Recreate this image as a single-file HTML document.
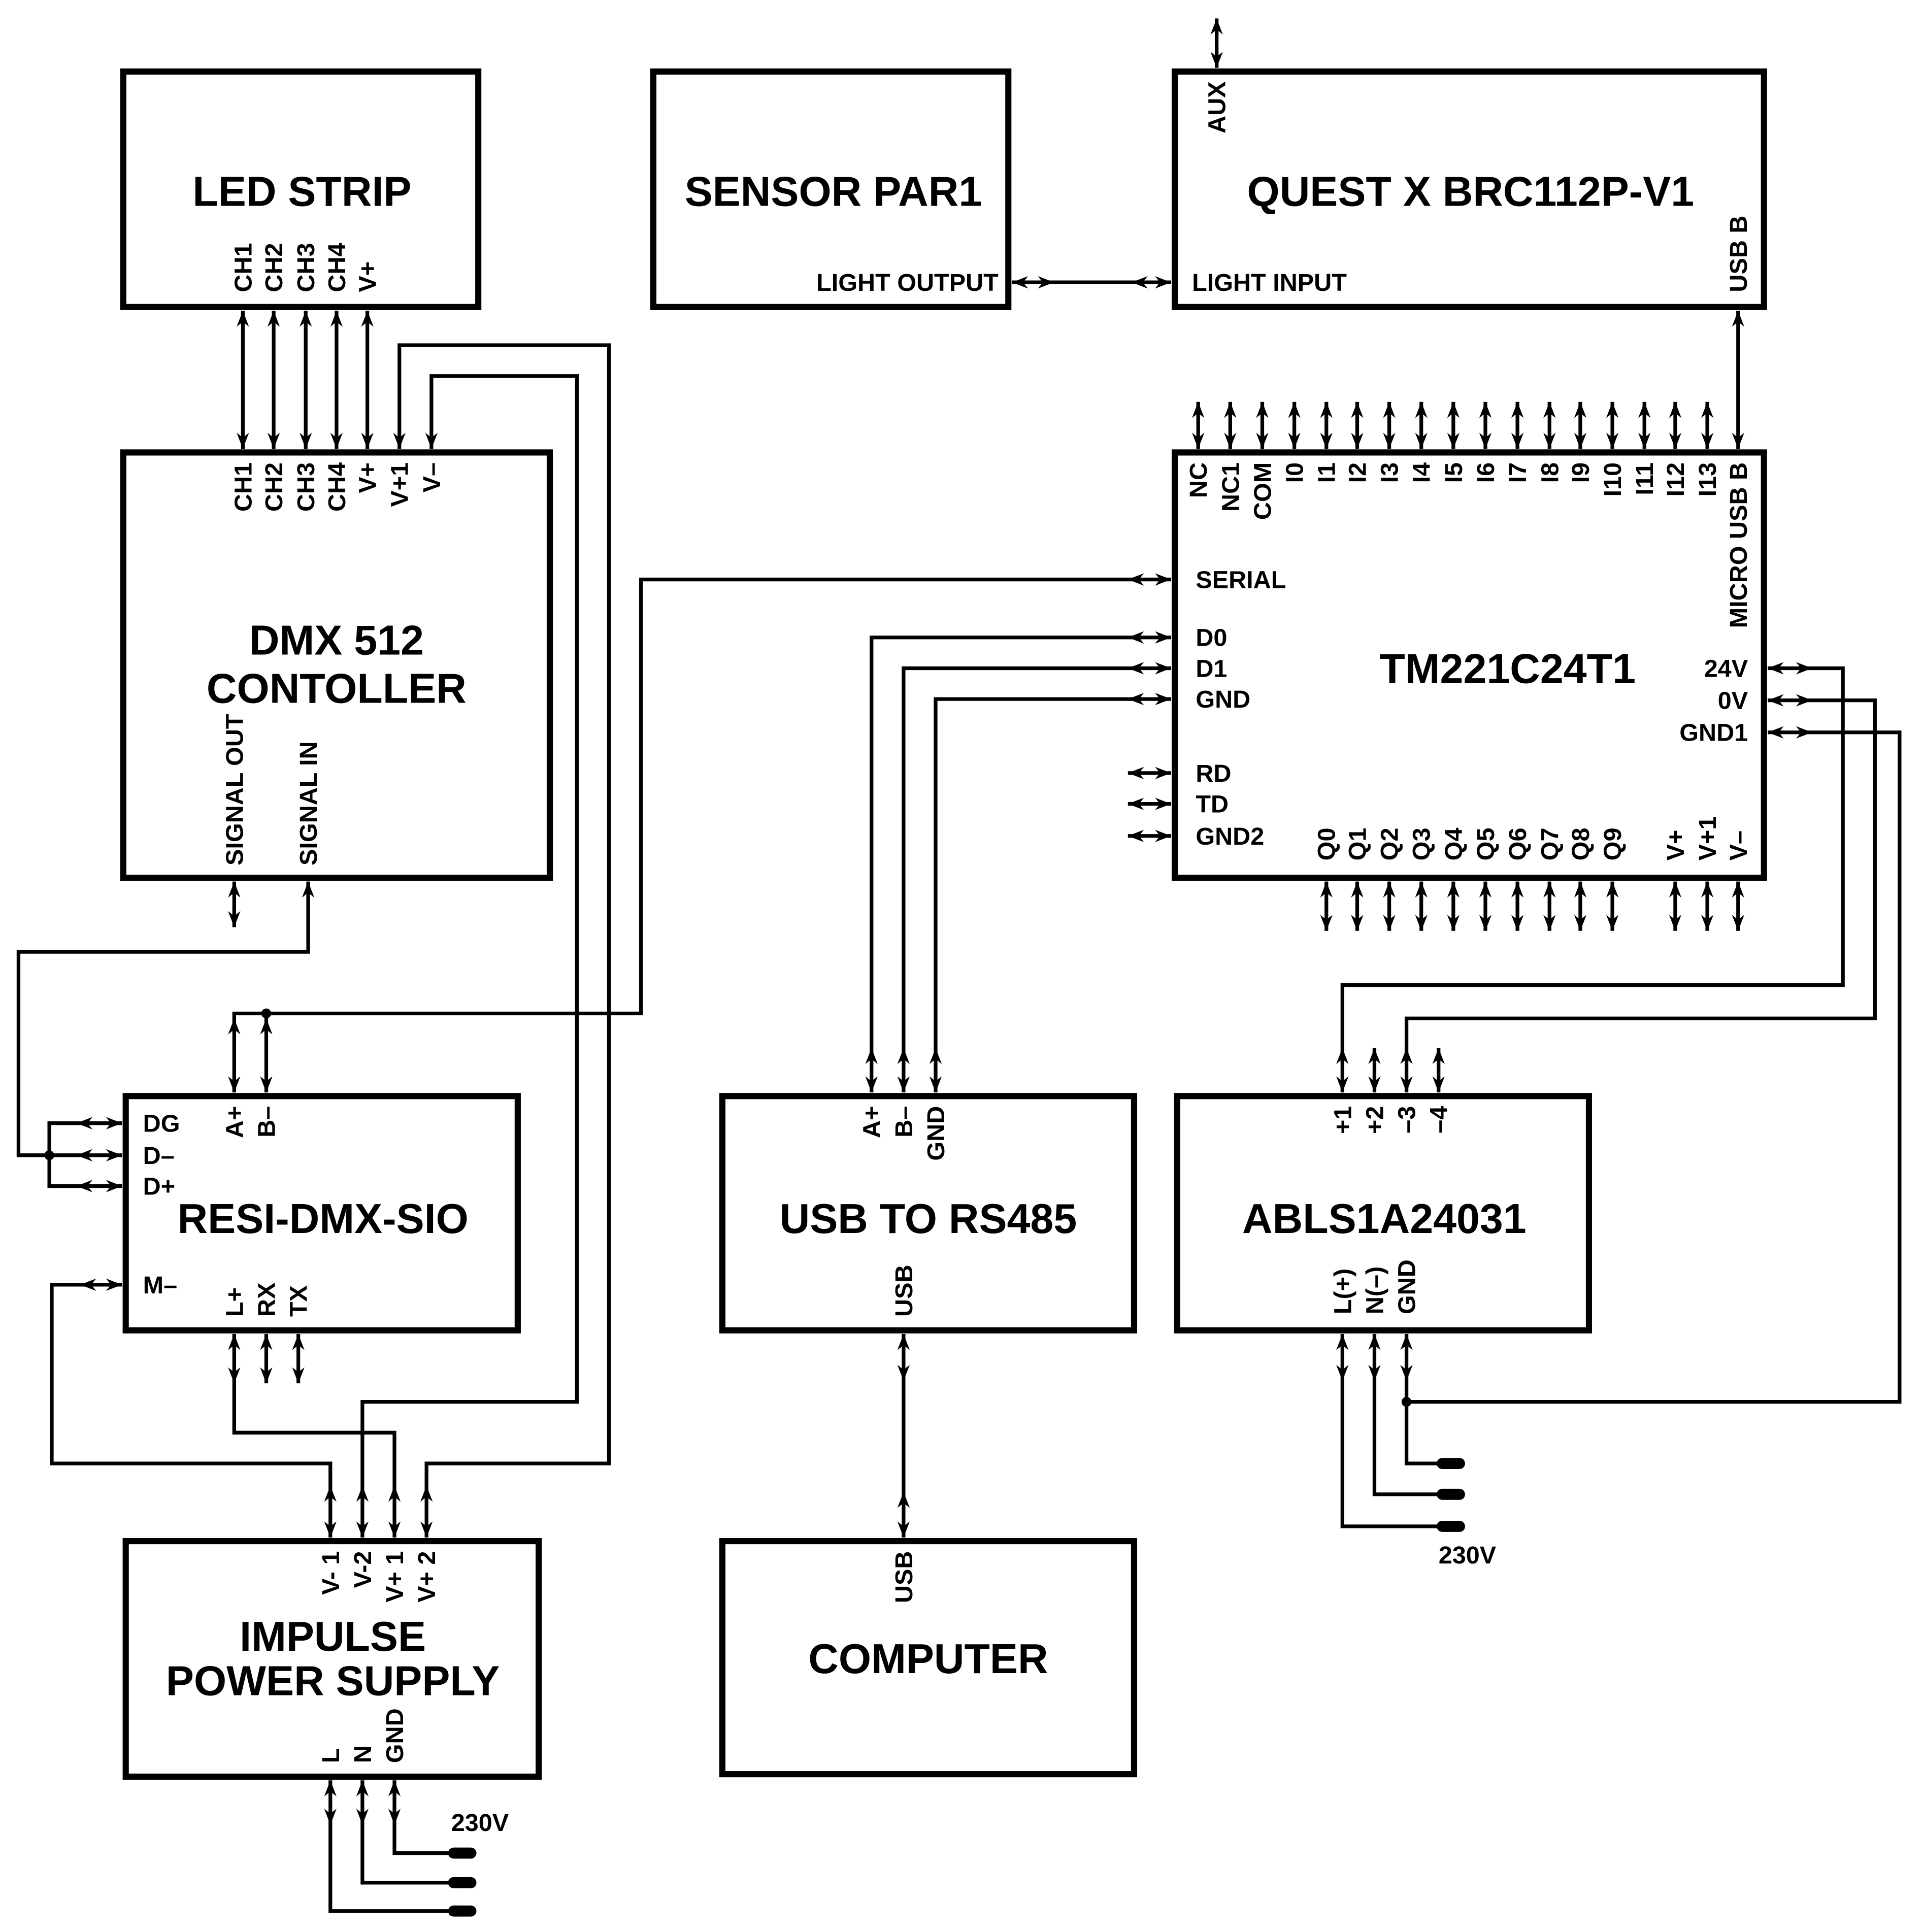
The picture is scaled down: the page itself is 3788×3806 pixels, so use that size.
<!DOCTYPE html>
<html><head><meta charset="utf-8"><style>
html,body{margin:0;padding:0;background:#fff}
svg{display:block}
text{font-family:"Liberation Sans",Arial,sans-serif;font-weight:bold;fill:#000}
.t{font-size:34px;text-anchor:middle}
.p{font-size:20px}
.b{fill:none;stroke:#000;stroke-width:5}
.w{fill:none;stroke:#000;stroke-width:3}
.pl{stroke:#000;stroke-width:9;stroke-linecap:round}
</style></head><body>
<svg width="3788" height="3806" viewBox="0 0 1560 1567" preserveAspectRatio="none" xmlns="http://www.w3.org/2000/svg" xmlns:xlink="http://www.w3.org/1999/xlink">
<defs>
<path id="au" d="M0,0 L-5,13 L0,9 L5,13Z" fill="#000"/>
<path id="ad" d="M0,0 L-5,-13 L0,-9 L5,-13Z" fill="#000"/>
<path id="al" d="M0,0 L13,-5 L9,0 L13,5Z" fill="#000"/>
<path id="ar" d="M0,0 L-13,-5 L-9,0 L-13,5Z" fill="#000"/>
</defs>
<rect class="b" x="100" y="58" width="288" height="191"/>
<rect class="b" x="530" y="58" width="288" height="191"/>
<rect class="b" x="953" y="58" width="478" height="191"/>
<rect class="b" x="100" y="367" width="346" height="345"/>
<rect class="b" x="953" y="367" width="478" height="345"/>
<rect class="b" x="102" y="889" width="318" height="190"/>
<rect class="b" x="586" y="889" width="334" height="190"/>
<rect class="b" x="955" y="889" width="334" height="190"/>
<rect class="b" x="102" y="1250" width="335" height="191"/>
<rect class="b" x="586" y="1250" width="334" height="189"/>

<text class="t" x="245" y="167">LED STRIP</text>
<text class="t" x="676" y="167">SENSOR PAR1</text>
<text class="t" x="1193" y="167">QUEST X BRC112P-V1</text>
<text class="t" x="273" y="531">DMX 512</text>
<text class="t" x="273" y="570">CONTOLLER</text>
<text class="t" x="1223" y="554">TM221C24T1</text>
<text class="t" x="262" y="1000">RESI-DMX-SIO</text>
<text class="t" x="753" y="1000">USB TO RS485</text>
<text class="t" x="1123" y="1000">ABLS1A24031</text>
<text class="t" x="270" y="1339">IMPULSE</text>
<text class="t" x="270" y="1375">POWER SUPPLY</text>
<text class="t" x="753" y="1357">COMPUTER</text>

<g class="p">
<text transform="translate(204,237) rotate(-90)">CH1</text>
<text transform="translate(229,237) rotate(-90)">CH2</text>
<text transform="translate(255,237) rotate(-90)">CH3</text>
<text transform="translate(280,237) rotate(-90)">CH4</text>
<text transform="translate(305,237) rotate(-90)">V+</text>
<text transform="translate(204,375) rotate(-90)" text-anchor="end">CH1</text>
<text transform="translate(229,375) rotate(-90)" text-anchor="end">CH2</text>
<text transform="translate(255,375) rotate(-90)" text-anchor="end">CH3</text>
<text transform="translate(280,375) rotate(-90)" text-anchor="end">CH4</text>
<text transform="translate(305,375) rotate(-90)" text-anchor="end">V+</text>
<text transform="translate(331,375) rotate(-90)" text-anchor="end">V+1</text>
<text transform="translate(357,375) rotate(-90)" text-anchor="end">V–</text>
<text transform="translate(197,702) rotate(-90)">SIGNAL OUT</text>
<text transform="translate(257,702) rotate(-90)">SIGNAL IN</text>
<text x="810" y="236" text-anchor="end">LIGHT OUTPUT</text>
<text x="967" y="236">LIGHT INPUT</text>
<text transform="translate(994,66) rotate(-90)" text-anchor="end">AUX</text>
<text transform="translate(1417,237) rotate(-90)">USB B</text>
<text transform="translate(979,375) rotate(-90)" text-anchor="end">NC</text>
<text transform="translate(1005,375) rotate(-90)" text-anchor="end">NC1</text>
<text transform="translate(1031,375) rotate(-90)" text-anchor="end">COM</text>
<text transform="translate(1057,375) rotate(-90)" text-anchor="end">I0</text>
<text transform="translate(1083,375) rotate(-90)" text-anchor="end">I1</text>
<text transform="translate(1108,375) rotate(-90)" text-anchor="end">I2</text>
<text transform="translate(1134,375) rotate(-90)" text-anchor="end">I3</text>
<text transform="translate(1160,375) rotate(-90)" text-anchor="end">I4</text>
<text transform="translate(1186,375) rotate(-90)" text-anchor="end">I5</text>
<text transform="translate(1212,375) rotate(-90)" text-anchor="end">I6</text>
<text transform="translate(1238,375) rotate(-90)" text-anchor="end">I7</text>
<text transform="translate(1264,375) rotate(-90)" text-anchor="end">I8</text>
<text transform="translate(1289,375) rotate(-90)" text-anchor="end">I9</text>
<text transform="translate(1315,375) rotate(-90)" text-anchor="end">I10</text>
<text transform="translate(1341,375) rotate(-90)" text-anchor="end">I11</text>
<text transform="translate(1366,375) rotate(-90)" text-anchor="end">I12</text>
<text transform="translate(1392,375) rotate(-90)" text-anchor="end">I13</text>
<text transform="translate(1417,375) rotate(-90)" text-anchor="end">MICRO USB B</text>
<text transform="translate(1083,698) rotate(-90)">Q0</text>
<text transform="translate(1108,698) rotate(-90)">Q1</text>
<text transform="translate(1134,698) rotate(-90)">Q2</text>
<text transform="translate(1160,698) rotate(-90)">Q3</text>
<text transform="translate(1186,698) rotate(-90)">Q4</text>
<text transform="translate(1212,698) rotate(-90)">Q5</text>
<text transform="translate(1238,698) rotate(-90)">Q6</text>
<text transform="translate(1264,698) rotate(-90)">Q7</text>
<text transform="translate(1289,698) rotate(-90)">Q8</text>
<text transform="translate(1315,698) rotate(-90)">Q9</text>
<text transform="translate(1366,698) rotate(-90)">V+</text>
<text transform="translate(1392,698) rotate(-90)">V+1</text>
<text transform="translate(1417,698) rotate(-90)">V–</text>
<text x="970" y="477">SERIAL</text>
<text x="970" y="524">D0</text>
<text x="970" y="549">D1</text>
<text x="970" y="574">GND</text>
<text x="970" y="634">RD</text>
<text x="970" y="659">TD</text>
<text x="970" y="685">GND2</text>
<text x="1418" y="549" text-anchor="end">24V</text>
<text x="1418" y="575" text-anchor="end">0V</text>
<text x="1418" y="601" text-anchor="end">GND1</text>
<text x="116" y="918">DG</text>
<text x="116" y="944">D–</text>
<text x="116" y="969">D+</text>
<text x="116" y="1049">M–</text>
<text transform="translate(197,897) rotate(-90)" text-anchor="end">A+</text>
<text transform="translate(223,897) rotate(-90)" text-anchor="end">B–</text>
<text transform="translate(197,1068) rotate(-90)">L+</text>
<text transform="translate(223,1068) rotate(-90)">RX</text>
<text transform="translate(249,1068) rotate(-90)">TX</text>
<text transform="translate(714,897) rotate(-90)" text-anchor="end">A+</text>
<text transform="translate(740,897) rotate(-90)" text-anchor="end">B–</text>
<text transform="translate(766,897) rotate(-90)" text-anchor="end">GND</text>
<text transform="translate(740,1068) rotate(-90)">USB</text>
<text transform="translate(740,1258) rotate(-90)" text-anchor="end">USB</text>
<text transform="translate(1096,897) rotate(-90)" text-anchor="end">+1</text>
<text transform="translate(1122,897) rotate(-90)" text-anchor="end">+2</text>
<text transform="translate(1148,897) rotate(-90)" text-anchor="end">–3</text>
<text transform="translate(1174,897) rotate(-90)" text-anchor="end">–4</text>
<text transform="translate(1096,1066) rotate(-90)">L(+)</text>
<text transform="translate(1122,1066) rotate(-90)">N(–)</text>
<text transform="translate(1148,1066) rotate(-90)">GND</text>
<text transform="translate(275,1258) rotate(-90)" text-anchor="end">V- 1</text>
<text transform="translate(301,1258) rotate(-90)" text-anchor="end">V-2</text>
<text transform="translate(327,1258) rotate(-90)" text-anchor="end">V+ 1</text>
<text transform="translate(353,1258) rotate(-90)" text-anchor="end">V+ 2</text>
<text transform="translate(275,1430) rotate(-90)">L</text>
<text transform="translate(301,1430) rotate(-90)">N</text>
<text transform="translate(327,1430) rotate(-90)">GND</text>
<text x="366" y="1485">230V</text>
<text x="1167" y="1268">230V</text>
</g>

<g class="w">
<line x1="197" y1="252" x2="197" y2="364"/>
<line x1="222" y1="252" x2="222" y2="364"/>
<line x1="248" y1="252" x2="248" y2="364"/>
<line x1="273" y1="252" x2="273" y2="364"/>
<line x1="298" y1="252" x2="298" y2="364"/>
<polyline points="324,364 324,280 494,280 494,1187 346,1187 346,1247"/>
<polyline points="350,364 350,305 468,305 468,1137 294,1137 294,1247"/>
<line x1="190" y1="715" x2="190" y2="752"/>
<polyline points="99,937 15,937 15,772 250,772 250,715"/>
<polyline points="99,911 40,911 40,962 99,962"/>
<polyline points="99,1042 42,1042 42,1187 268,1187 268,1247"/>
<polyline points="190,1082 190,1162 320,1162 320,1247"/>
<line x1="216" y1="1082" x2="216" y2="1122"/>
<line x1="242" y1="1082" x2="242" y2="1122"/>
<polyline points="190,886 190,822 520,822 520,470 950,470"/>
<line x1="216" y1="822" x2="216" y2="886"/>
<polyline points="707,886 707,517 950,517"/>
<polyline points="733,886 733,542 950,542"/>
<polyline points="759,886 759,567 950,567"/>
<line x1="915" y1="627" x2="950" y2="627"/>
<line x1="915" y1="652" x2="950" y2="652"/>
<line x1="915" y1="678" x2="950" y2="678"/>
<line x1="821" y1="229" x2="950" y2="229"/>
<line x1="987" y1="15" x2="987" y2="55"/>
<line x1="1410" y1="252" x2="1410" y2="364"/>
<line x1="972" y1="326" x2="972" y2="364"/>
<line x1="998" y1="326" x2="998" y2="364"/>
<line x1="1024" y1="326" x2="1024" y2="364"/>
<line x1="1050" y1="326" x2="1050" y2="364"/>
<line x1="1076" y1="326" x2="1076" y2="364"/>
<line x1="1101" y1="326" x2="1101" y2="364"/>
<line x1="1127" y1="326" x2="1127" y2="364"/>
<line x1="1153" y1="326" x2="1153" y2="364"/>
<line x1="1179" y1="326" x2="1179" y2="364"/>
<line x1="1205" y1="326" x2="1205" y2="364"/>
<line x1="1231" y1="326" x2="1231" y2="364"/>
<line x1="1257" y1="326" x2="1257" y2="364"/>
<line x1="1282" y1="326" x2="1282" y2="364"/>
<line x1="1308" y1="326" x2="1308" y2="364"/>
<line x1="1334" y1="326" x2="1334" y2="364"/>
<line x1="1359" y1="326" x2="1359" y2="364"/>
<line x1="1385" y1="326" x2="1385" y2="364"/>
<line x1="1076" y1="715" x2="1076" y2="755"/>
<line x1="1101" y1="715" x2="1101" y2="755"/>
<line x1="1127" y1="715" x2="1127" y2="755"/>
<line x1="1153" y1="715" x2="1153" y2="755"/>
<line x1="1179" y1="715" x2="1179" y2="755"/>
<line x1="1205" y1="715" x2="1205" y2="755"/>
<line x1="1231" y1="715" x2="1231" y2="755"/>
<line x1="1257" y1="715" x2="1257" y2="755"/>
<line x1="1282" y1="715" x2="1282" y2="755"/>
<line x1="1308" y1="715" x2="1308" y2="755"/>
<line x1="1359" y1="715" x2="1359" y2="755"/>
<line x1="1385" y1="715" x2="1385" y2="755"/>
<line x1="1410" y1="715" x2="1410" y2="755"/>
<polyline points="1434,542 1495,542 1495,799 1089,799 1089,886"/>
<polyline points="1434,568 1521,568 1521,826 1141,826 1141,886"/>
<polyline points="1434,594 1541,594 1541,1137 1141,1137"/>
<line x1="1115" y1="850" x2="1115" y2="886"/>
<line x1="1167" y1="850" x2="1167" y2="886"/>
<polyline points="1089,1082 1089,1238 1170,1238"/>
<polyline points="1115,1082 1115,1212 1170,1212"/>
<polyline points="1141,1082 1141,1187 1170,1187"/>
<polyline points="320,1444 320,1503 368,1503"/>
<polyline points="294,1444 294,1527 368,1527"/>
<polyline points="268,1444 268,1550 368,1550"/>
<line x1="733" y1="1082" x2="733" y2="1247"/>
</g>
<circle cx="40" cy="937" r="4"/>
<circle cx="216" cy="822" r="4"/>
<circle cx="1141" cy="1137" r="4"/>
<line class="pl" x1="1170" y1="1187" x2="1184" y2="1187"/>
<line class="pl" x1="1170" y1="1212" x2="1184" y2="1212"/>
<line class="pl" x1="1170" y1="1238" x2="1184" y2="1238"/>
<line class="pl" x1="368" y1="1503" x2="382" y2="1503"/>
<line class="pl" x1="368" y1="1527" x2="382" y2="1527"/>
<line class="pl" x1="368" y1="1550" x2="382" y2="1550"/>

<g>
<use xlink:href="#au" x="197" y="252"/><use xlink:href="#ad" x="197" y="364"/>
<use xlink:href="#au" x="222" y="252"/><use xlink:href="#ad" x="222" y="364"/>
<use xlink:href="#au" x="248" y="252"/><use xlink:href="#ad" x="248" y="364"/>
<use xlink:href="#au" x="273" y="252"/><use xlink:href="#ad" x="273" y="364"/>
<use xlink:href="#au" x="298" y="252"/><use xlink:href="#ad" x="298" y="364"/>
<use xlink:href="#ad" x="324" y="364"/><use xlink:href="#ad" x="350" y="364"/>
<use xlink:href="#au" x="190" y="715"/><use xlink:href="#ad" x="190" y="752"/>
<use xlink:href="#au" x="250" y="715"/>
<use xlink:href="#au" x="190" y="826"/><use xlink:href="#ad" x="190" y="886"/>
<use xlink:href="#au" x="216" y="826"/><use xlink:href="#ad" x="216" y="886"/>
<use xlink:href="#au" x="190" y="1082"/><use xlink:href="#ad" x="190" y="1122"/>
<use xlink:href="#au" x="216" y="1082"/><use xlink:href="#ad" x="216" y="1122"/>
<use xlink:href="#au" x="242" y="1082"/><use xlink:href="#ad" x="242" y="1122"/>
<use xlink:href="#au" x="268" y="1205"/><use xlink:href="#ad" x="268" y="1247"/>
<use xlink:href="#au" x="294" y="1205"/><use xlink:href="#ad" x="294" y="1247"/>
<use xlink:href="#au" x="320" y="1205"/><use xlink:href="#ad" x="320" y="1247"/>
<use xlink:href="#au" x="346" y="1205"/><use xlink:href="#ad" x="346" y="1247"/>
<use xlink:href="#au" x="707" y="850"/><use xlink:href="#ad" x="707" y="886"/>
<use xlink:href="#au" x="733" y="850"/><use xlink:href="#ad" x="733" y="886"/>
<use xlink:href="#au" x="759" y="850"/><use xlink:href="#ad" x="759" y="886"/>
<use xlink:href="#au" x="733" y="1082"/><use xlink:href="#ad" x="733" y="1247"/>
<use xlink:href="#ad" x="733" y="1120"/><use xlink:href="#au" x="733" y="1210"/>
<use xlink:href="#au" x="1410" y="252"/><use xlink:href="#ad" x="1410" y="364"/>
<use xlink:href="#au" x="987" y="15"/><use xlink:href="#ad" x="987" y="55"/>
<use xlink:href="#au" x="972" y="326"/><use xlink:href="#ad" x="972" y="364"/>
<use xlink:href="#au" x="998" y="326"/><use xlink:href="#ad" x="998" y="364"/>
<use xlink:href="#au" x="1024" y="326"/><use xlink:href="#ad" x="1024" y="364"/>
<use xlink:href="#au" x="1050" y="326"/><use xlink:href="#ad" x="1050" y="364"/>
<use xlink:href="#au" x="1076" y="326"/><use xlink:href="#ad" x="1076" y="364"/>
<use xlink:href="#au" x="1101" y="326"/><use xlink:href="#ad" x="1101" y="364"/>
<use xlink:href="#au" x="1127" y="326"/><use xlink:href="#ad" x="1127" y="364"/>
<use xlink:href="#au" x="1153" y="326"/><use xlink:href="#ad" x="1153" y="364"/>
<use xlink:href="#au" x="1179" y="326"/><use xlink:href="#ad" x="1179" y="364"/>
<use xlink:href="#au" x="1205" y="326"/><use xlink:href="#ad" x="1205" y="364"/>
<use xlink:href="#au" x="1231" y="326"/><use xlink:href="#ad" x="1231" y="364"/>
<use xlink:href="#au" x="1257" y="326"/><use xlink:href="#ad" x="1257" y="364"/>
<use xlink:href="#au" x="1282" y="326"/><use xlink:href="#ad" x="1282" y="364"/>
<use xlink:href="#au" x="1308" y="326"/><use xlink:href="#ad" x="1308" y="364"/>
<use xlink:href="#au" x="1334" y="326"/><use xlink:href="#ad" x="1334" y="364"/>
<use xlink:href="#au" x="1359" y="326"/><use xlink:href="#ad" x="1359" y="364"/>
<use xlink:href="#au" x="1385" y="326"/><use xlink:href="#ad" x="1385" y="364"/>
<use xlink:href="#au" x="1076" y="715"/><use xlink:href="#ad" x="1076" y="755"/>
<use xlink:href="#au" x="1101" y="715"/><use xlink:href="#ad" x="1101" y="755"/>
<use xlink:href="#au" x="1127" y="715"/><use xlink:href="#ad" x="1127" y="755"/>
<use xlink:href="#au" x="1153" y="715"/><use xlink:href="#ad" x="1153" y="755"/>
<use xlink:href="#au" x="1179" y="715"/><use xlink:href="#ad" x="1179" y="755"/>
<use xlink:href="#au" x="1205" y="715"/><use xlink:href="#ad" x="1205" y="755"/>
<use xlink:href="#au" x="1231" y="715"/><use xlink:href="#ad" x="1231" y="755"/>
<use xlink:href="#au" x="1257" y="715"/><use xlink:href="#ad" x="1257" y="755"/>
<use xlink:href="#au" x="1282" y="715"/><use xlink:href="#ad" x="1282" y="755"/>
<use xlink:href="#au" x="1308" y="715"/><use xlink:href="#ad" x="1308" y="755"/>
<use xlink:href="#au" x="1359" y="715"/><use xlink:href="#ad" x="1359" y="755"/>
<use xlink:href="#au" x="1385" y="715"/><use xlink:href="#ad" x="1385" y="755"/>
<use xlink:href="#au" x="1410" y="715"/><use xlink:href="#ad" x="1410" y="755"/>
<use xlink:href="#au" x="1089" y="850"/><use xlink:href="#ad" x="1089" y="886"/>
<use xlink:href="#au" x="1115" y="850"/><use xlink:href="#ad" x="1115" y="886"/>
<use xlink:href="#au" x="1141" y="850"/><use xlink:href="#ad" x="1141" y="886"/>
<use xlink:href="#au" x="1167" y="850"/><use xlink:href="#ad" x="1167" y="886"/>
<use xlink:href="#au" x="1089" y="1082"/><use xlink:href="#ad" x="1089" y="1120"/>
<use xlink:href="#au" x="1115" y="1082"/><use xlink:href="#ad" x="1115" y="1120"/>
<use xlink:href="#au" x="1141" y="1082"/><use xlink:href="#ad" x="1141" y="1120"/>
<use xlink:href="#au" x="268" y="1444"/><use xlink:href="#ad" x="268" y="1480"/>
<use xlink:href="#au" x="294" y="1444"/><use xlink:href="#ad" x="294" y="1480"/>
<use xlink:href="#au" x="320" y="1444"/><use xlink:href="#ad" x="320" y="1480"/>
<use xlink:href="#al" x="821" y="229"/><use xlink:href="#ar" x="855" y="229"/>
<use xlink:href="#al" x="918" y="229"/><use xlink:href="#ar" x="950" y="229"/>
<use xlink:href="#al" x="915" y="470"/><use xlink:href="#ar" x="950" y="470"/>
<use xlink:href="#al" x="915" y="517"/><use xlink:href="#ar" x="950" y="517"/>
<use xlink:href="#al" x="915" y="542"/><use xlink:href="#ar" x="950" y="542"/>
<use xlink:href="#al" x="915" y="567"/><use xlink:href="#ar" x="950" y="567"/>
<use xlink:href="#al" x="915" y="627"/><use xlink:href="#ar" x="950" y="627"/>
<use xlink:href="#al" x="915" y="652"/><use xlink:href="#ar" x="950" y="652"/>
<use xlink:href="#al" x="915" y="678"/><use xlink:href="#ar" x="950" y="678"/>
<use xlink:href="#al" x="1434" y="542"/><use xlink:href="#ar" x="1470" y="542"/>
<use xlink:href="#al" x="1434" y="568"/><use xlink:href="#ar" x="1470" y="568"/>
<use xlink:href="#al" x="1434" y="594"/><use xlink:href="#ar" x="1470" y="594"/>
<use xlink:href="#al" x="62" y="911"/><use xlink:href="#ar" x="99" y="911"/>
<use xlink:href="#al" x="62" y="937"/><use xlink:href="#ar" x="99" y="937"/>
<use xlink:href="#al" x="62" y="962"/><use xlink:href="#ar" x="99" y="962"/>
<use xlink:href="#al" x="65" y="1042"/><use xlink:href="#ar" x="99" y="1042"/>
</g>
</svg>
</body></html>
